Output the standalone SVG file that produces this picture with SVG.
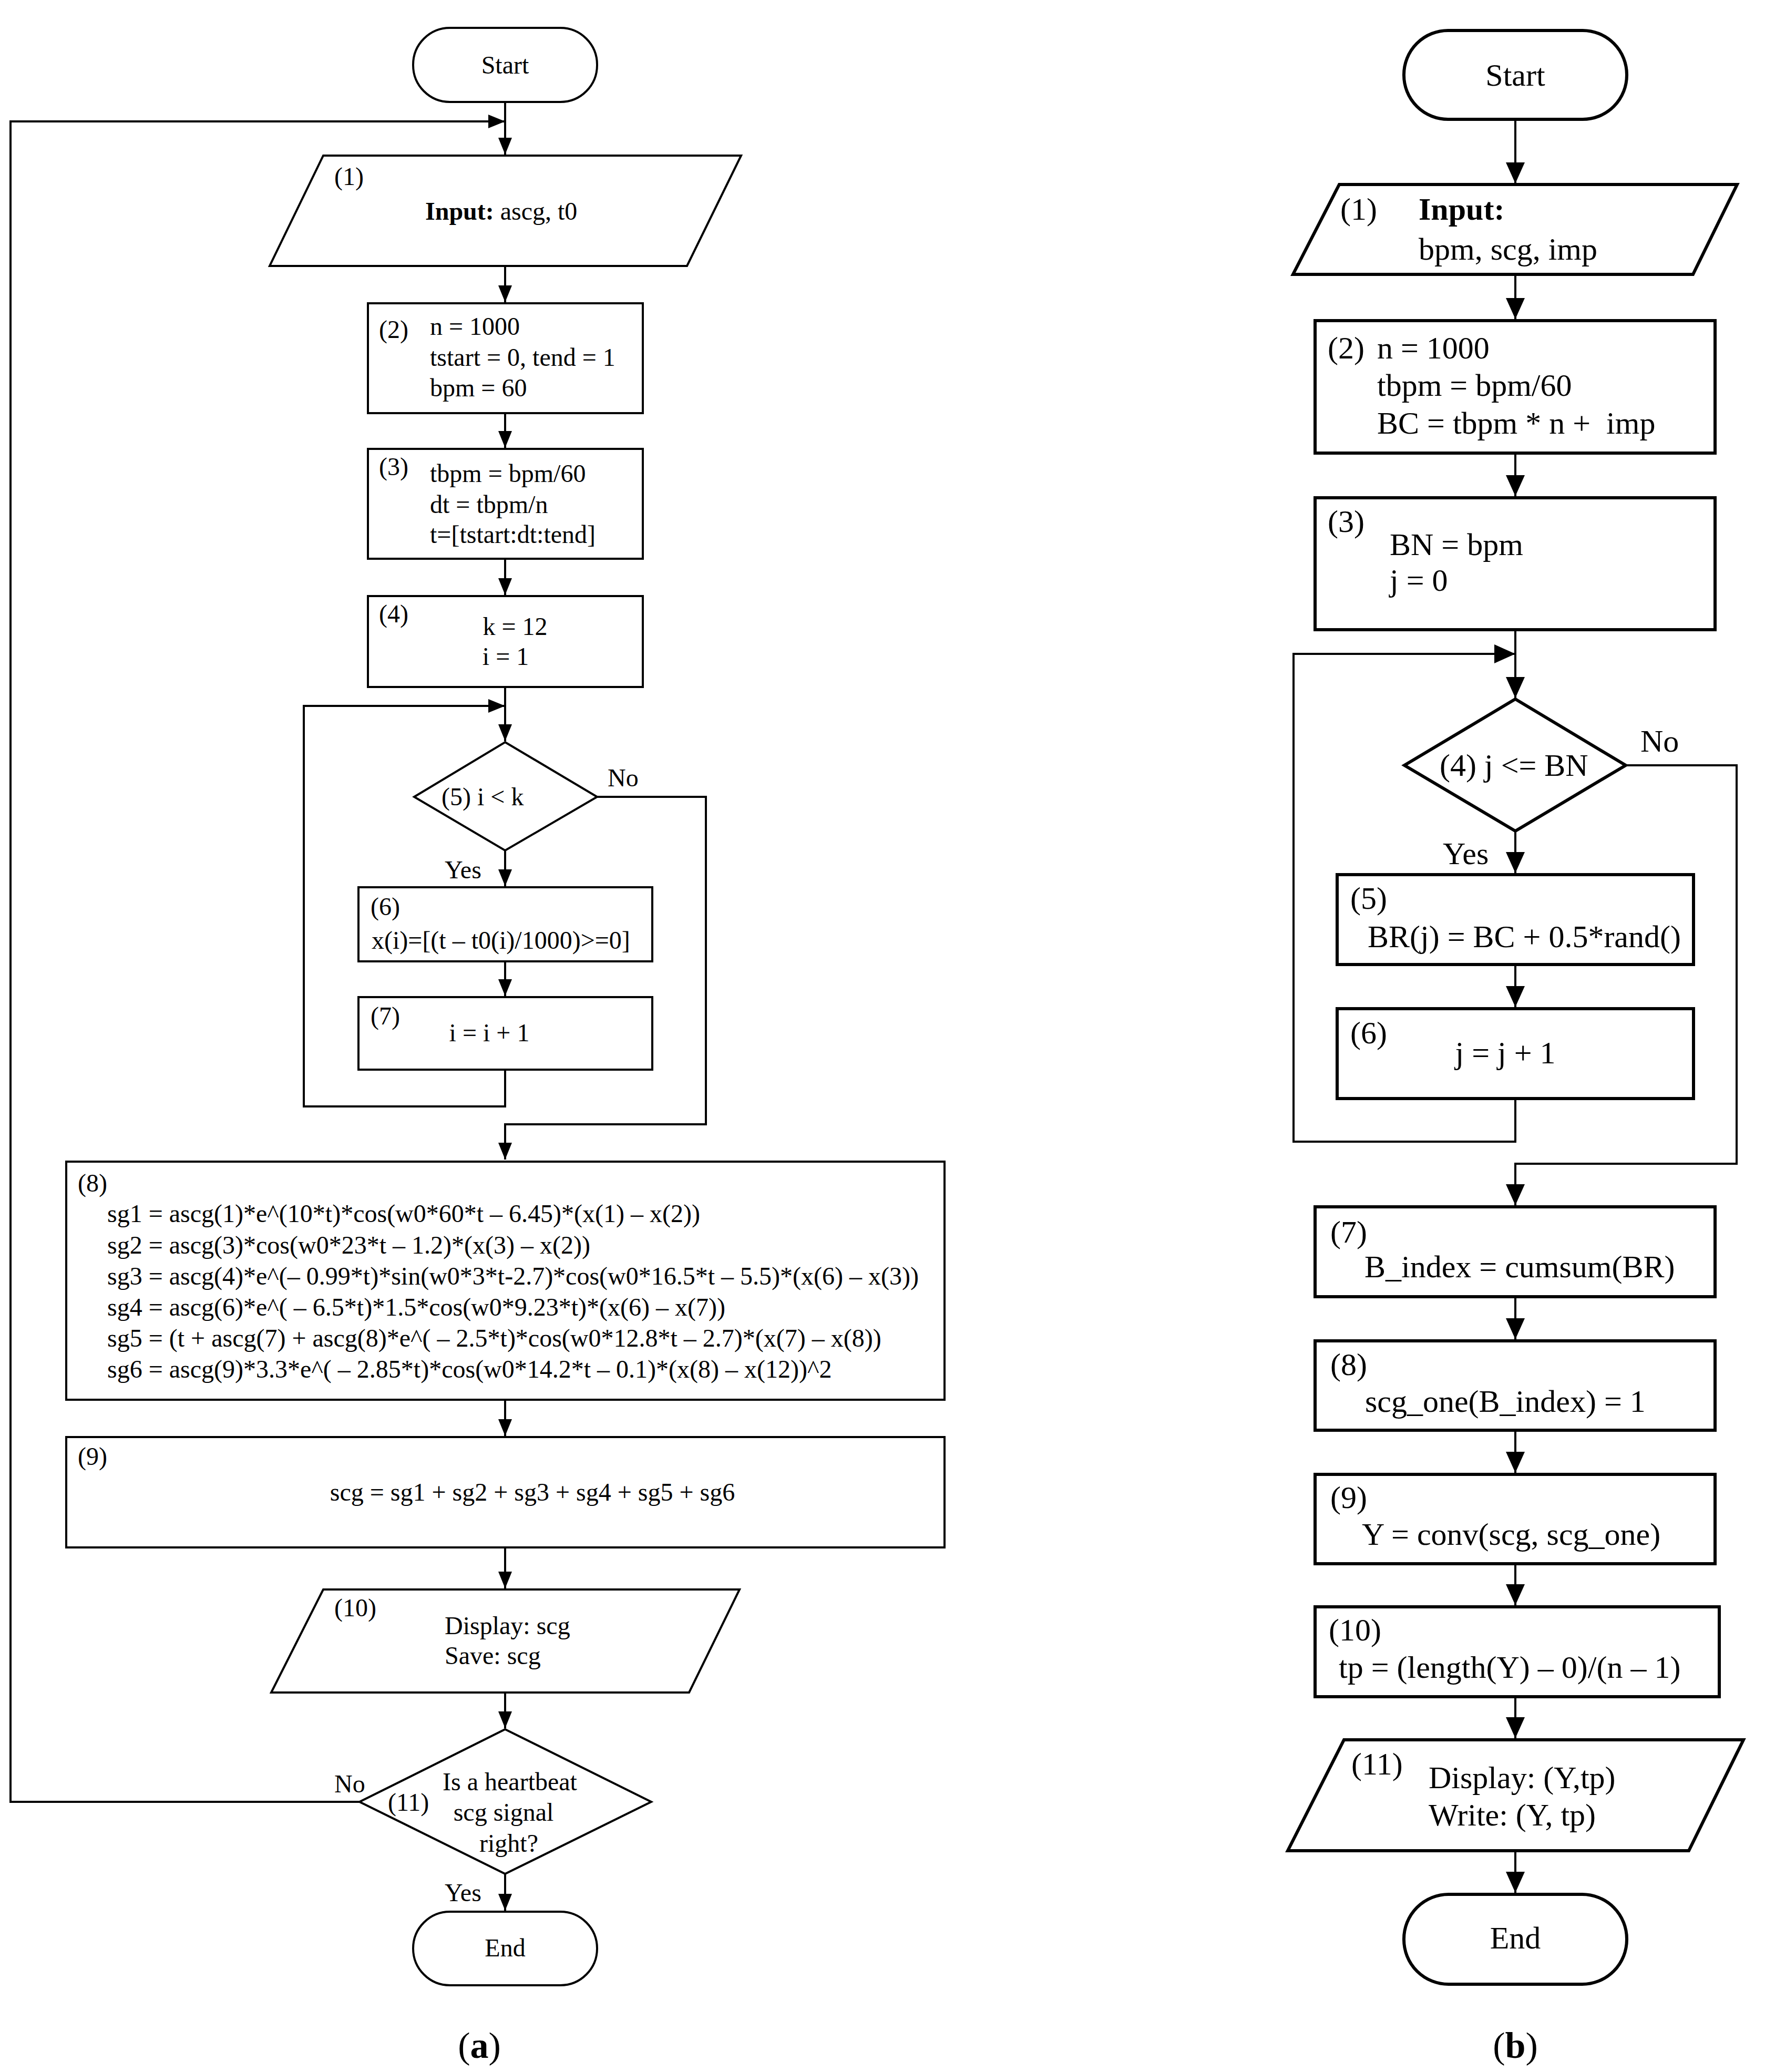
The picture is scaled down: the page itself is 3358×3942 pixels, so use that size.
<svg xmlns="http://www.w3.org/2000/svg" width="3358" height="3942" viewBox="0 0 3358 3942">
<style>
  text { font-family: "Liberation Serif", "Times New Roman", serif; fill: #000; }
  .ta { font-size: 48px; }
  .tb { font-size: 60px; }
  .cap { font-size: 70px; }
  .mid { text-anchor: middle; }
  .b { font-weight: bold; }
  .sa { fill: #fff; stroke: #000; stroke-width: 4; }
  .sb { fill: #fff; stroke: #000; stroke-width: 6; }
  .ca { fill: none; stroke: #000; stroke-width: 4; }
  .cb { fill: none; stroke: #000; stroke-width: 4; }
</style>
<defs>
  <marker id="arrA" markerUnits="userSpaceOnUse" markerWidth="32" markerHeight="26" refX="32" refY="13" orient="auto">
    <path d="M0,0 L32,13 L0,26 z" fill="#000"/>
  </marker>
  <marker id="arrB" markerUnits="userSpaceOnUse" markerWidth="40" markerHeight="36" refX="40" refY="18" orient="auto">
    <path d="M0,0 L40,18 L0,36 z" fill="#000"/>
  </marker>
</defs>
<rect width="3358" height="3942" fill="#fff"/>

<!-- Connectors -->
<g id="connectors">
  <!-- panel a -->
  <path class="ca" d="M961,194 V294" marker-end="url(#arrA)"/>
  <path class="ca" d="M684,3428 H20 V231 H961" marker-end="url(#arrA)"/>
  <path class="ca" d="M961,506 V575" marker-end="url(#arrA)"/>
  <path class="ca" d="M961,786 V852" marker-end="url(#arrA)"/>
  <path class="ca" d="M961,1063 V1132" marker-end="url(#arrA)"/>
  <path class="ca" d="M961,1307 V1410" marker-end="url(#arrA)"/>
  <path class="ca" d="M961,2035 V2105 H578 V1343 H961" marker-end="url(#arrA)"/>
  <path class="ca" d="M961,1618 V1686" marker-end="url(#arrA)"/>
  <path class="ca" d="M961,1829 V1895" marker-end="url(#arrA)"/>
  <path class="ca" d="M1136,1516 H1343 V2139 H961 V2206" marker-end="url(#arrA)"/>
  <path class="ca" d="M961,2663 V2732" marker-end="url(#arrA)"/>
  <path class="ca" d="M961,2944 V3022" marker-end="url(#arrA)"/>
  <path class="ca" d="M961,3220 V3288" marker-end="url(#arrA)"/>
  <path class="ca" d="M961,3565 V3635" marker-end="url(#arrA)"/>
  <!-- panel b -->
  <path class="cb" d="M2883,227 V349" marker-end="url(#arrB)"/>
  <path class="cb" d="M2883,522 V607" marker-end="url(#arrB)"/>
  <path class="cb" d="M2883,862 V944" marker-end="url(#arrB)"/>
  <path class="cb" d="M2883,1198 V1328" marker-end="url(#arrB)"/>
  <path class="cb" d="M2883,2090 V2172 H2461 V1244 H2883" marker-end="url(#arrB)"/>
  <path class="cb" d="M2883,1581 V1661" marker-end="url(#arrB)"/>
  <path class="cb" d="M2883,1835 V1916" marker-end="url(#arrB)"/>
  <path class="cb" d="M3093,1456 H3304 V2214 H2883 V2293" marker-end="url(#arrB)"/>
  <path class="cb" d="M2883,2467 V2548" marker-end="url(#arrB)"/>
  <path class="cb" d="M2883,2721 V2802" marker-end="url(#arrB)"/>
  <path class="cb" d="M2883,2975 V3054" marker-end="url(#arrB)"/>
  <path class="cb" d="M2883,3228 V3307" marker-end="url(#arrB)"/>
  <path class="cb" d="M2883,3521 V3601" marker-end="url(#arrB)"/>
</g>

<!-- Panel (a) -->
<g id="a-start">
  <rect class="sa" x="786" y="53" width="350" height="141" rx="70" ry="70"/>
  <text class="ta mid" x="961" y="140">Start</text>
</g>
<g id="a-n1">
  <polygon class="sa" points="615,296 1410,296 1307,506 513,506"/>
  <text class="ta" x="636" y="352">(1)</text>
  <text class="ta" x="809" y="418"><tspan class="b">Input:</tspan> ascg, t0</text>
</g>
<g id="a-n2">
  <rect class="sa" x="700" y="577" width="523" height="209"/>
  <text class="ta" x="721" y="643">(2)</text>
  <text class="ta" x="818" y="637">n = 1000</text>
  <text class="ta" x="818" y="696">tstart = 0, tend = 1</text>
  <text class="ta" x="818" y="754">bpm = 60</text>
</g>
<g id="a-n3">
  <rect class="sa" x="700" y="854" width="523" height="209"/>
  <text class="ta" x="721" y="904">(3)</text>
  <text class="ta" x="818" y="917">tbpm = bpm/60</text>
  <text class="ta" x="818" y="976">dt = tbpm/n</text>
  <text class="ta" x="818" y="1033">t=[tstart:dt:tend]</text>
</g>
<g id="a-n4">
  <rect class="sa" x="700" y="1134" width="523" height="173"/>
  <text class="ta" x="721" y="1184">(4)</text>
  <text class="ta mid" x="980" y="1208">k = 12</text>
  <text class="ta mid" x="962" y="1265">i = 1</text>
</g>
<g id="a-n5">
  <polygon class="sa" points="961,1412 1136,1516 961,1618 788,1516"/>
  <text class="ta" x="840" y="1532">(5) i &lt; k</text>
  <text class="ta" x="1156" y="1496">No</text>
  <text class="ta" x="846" y="1671">Yes</text>
</g>
<g id="a-n6">
  <rect class="sa" x="682" y="1688" width="559" height="141"/>
  <text class="ta" x="705" y="1741">(6)</text>
  <text class="ta" x="707" y="1805">x(i)=[(t – t0(i)/1000)&gt;=0]</text>
</g>
<g id="a-n7">
  <rect class="sa" x="682" y="1897" width="559" height="138"/>
  <text class="ta" x="705" y="1949">(7)</text>
  <text class="ta mid" x="931" y="1981">i = i + 1</text>
</g>
<g id="a-n8">
  <rect class="sa" x="126" y="2210" width="1671" height="453"/>
  <text class="ta" x="148" y="2267">(8)</text>
  <text class="ta" x="204" y="2325">sg1 = ascg(1)*e^(10*t)*cos(w0*60*t – 6.45)*(x(1) – x(2))</text>
  <text class="ta" x="204" y="2385">sg2 = ascg(3)*cos(w0*23*t – 1.2)*(x(3) – x(2))</text>
  <text class="ta" x="204" y="2444">sg3 = ascg(4)*e^(– 0.99*t)*sin(w0*3*t-2.7)*cos(w0*16.5*t – 5.5)*(x(6) – x(3))</text>
  <text class="ta" x="204" y="2503">sg4 = ascg(6)*e^( – 6.5*t)*1.5*cos(w0*9.23*t)*(x(6) – x(7))</text>
  <text class="ta" x="204" y="2562">sg5 = (t + ascg(7) + ascg(8)*e^( – 2.5*t)*cos(w0*12.8*t – 2.7)*(x(7) – x(8))</text>
  <text class="ta" x="204" y="2621">sg6 = ascg(9)*3.3*e^( – 2.85*t)*cos(w0*14.2*t – 0.1)*(x(8) – x(12))^2</text>
</g>
<g id="a-n9">
  <rect class="sa" x="126" y="2734" width="1671" height="210"/>
  <text class="ta" x="148" y="2787">(9)</text>
  <text class="ta mid" x="1013" y="2855">scg = sg1 + sg2 + sg3 + sg4 + sg5 + sg6</text>
</g>
<g id="a-n10">
  <polygon class="sa" points="615,3024 1407,3024 1311,3220 516,3220"/>
  <text class="ta" x="636" y="3075">(10)</text>
  <text class="ta" x="846" y="3109">Display: scg</text>
  <text class="ta" x="846" y="3166">Save: scg</text>
</g>
<g id="a-n11">
  <polygon class="sa" points="961,3290 1239,3428 961,3565 684,3428"/>
  <text class="ta mid" x="970" y="3406">Is a heartbeat</text>
  <text class="ta" x="738" y="3445">(11)</text>
  <text class="ta mid" x="958" y="3464">scg signal</text>
  <text class="ta mid" x="968" y="3523">right?</text>
  <text class="ta" x="636" y="3410">No</text>
  <text class="ta" x="846" y="3617">Yes</text>
</g>
<g id="a-end">
  <rect class="sa" x="786" y="3637" width="350" height="140" rx="70" ry="70"/>
  <text class="ta mid" x="961" y="3722">End</text>
</g>
<text class="cap mid" x="912" y="3915">(<tspan class="b">a</tspan>)</text>

<!-- Panel (b) -->
<g id="b-start">
  <rect class="sb" x="2671" y="58" width="424" height="169" rx="84" ry="84"/>
  <text class="tb mid" x="2883" y="163">Start</text>
</g>
<g id="b-n1">
  <polygon class="sb" points="2548,351 3305,351 3221,522 2460,522"/>
  <text class="tb" x="2550" y="418">(1)</text>
  <text class="tb b" x="2699" y="418">Input:</text>
  <text class="tb" x="2699" y="494">bpm, scg, imp</text>
</g>
<g id="b-n2">
  <rect class="sb" x="2502" y="610" width="761" height="252"/>
  <text class="tb" x="2526" y="682">(2)</text>
  <text class="tb" x="2620" y="682">n = 1000</text>
  <text class="tb" x="2620" y="753">tbpm = bpm/60</text>
  <text class="tb" x="2620" y="825">BC = tbpm * n +&#160; imp</text>
</g>
<g id="b-n3">
  <rect class="sb" x="2502" y="947" width="761" height="251"/>
  <text class="tb" x="2526" y="1012">(3)</text>
  <text class="tb" x="2644" y="1056">BN = bpm</text>
  <text class="tb" x="2644" y="1124">j = 0</text>
</g>
<g id="b-n4">
  <polygon class="sb" points="2883,1330 3093,1456 2883,1581 2672,1456"/>
  <text class="tb" x="2739" y="1476">(4) j &lt;= BN</text>
  <text class="tb" x="3121" y="1430">No</text>
  <text class="tb" x="2745" y="1644">Yes</text>
</g>
<g id="b-n5">
  <rect class="sb" x="2544" y="1664" width="678" height="171"/>
  <text class="tb" x="2569" y="1729">(5)</text>
  <text class="tb" x="2602" y="1802">BR(j) = BC + 0.5*rand()</text>
</g>
<g id="b-n6">
  <rect class="sb" x="2544" y="1919" width="678" height="171"/>
  <text class="tb" x="2569" y="1985">(6)</text>
  <text class="tb mid" x="2864" y="2023">j = j + 1</text>
</g>
<g id="b-n7">
  <rect class="sb" x="2502" y="2296" width="761" height="171"/>
  <text class="tb" x="2531" y="2364">(7)</text>
  <text class="tb" x="2596" y="2430">B_index = cumsum(BR)</text>
</g>
<g id="b-n8">
  <rect class="sb" x="2502" y="2551" width="761" height="170"/>
  <text class="tb" x="2531" y="2616">(8)</text>
  <text class="tb" x="2597" y="2686">scg_one(B_index) = 1</text>
</g>
<g id="b-n9">
  <rect class="sb" x="2502" y="2805" width="761" height="170"/>
  <text class="tb" x="2531" y="2869">(9)</text>
  <text class="tb" x="2591" y="2939">Y = conv(scg, scg_one)</text>
</g>
<g id="b-n10">
  <rect class="sb" x="2502" y="3057" width="769" height="171"/>
  <text class="tb" x="2528" y="3121">(10)</text>
  <text class="tb" x="2547" y="3192">tp = (length(Y) – 0)/(n – 1)</text>
</g>
<g id="b-n11">
  <polygon class="sb" points="2557,3310 3317,3310 3213,3521 2450,3521"/>
  <text class="tb" x="2571" y="3376">(11)</text>
  <text class="tb" x="2718" y="3402">Display: (Y,tp)</text>
  <text class="tb" x="2718" y="3473">Write: (Y, tp)</text>
</g>
<g id="b-end">
  <rect class="sb" x="2671" y="3604" width="424" height="171" rx="85" ry="85"/>
  <text class="tb mid" x="2883" y="3707">End</text>
</g>
<text class="cap mid" x="2883" y="3915">(<tspan class="b">b</tspan>)</text>
</svg>
